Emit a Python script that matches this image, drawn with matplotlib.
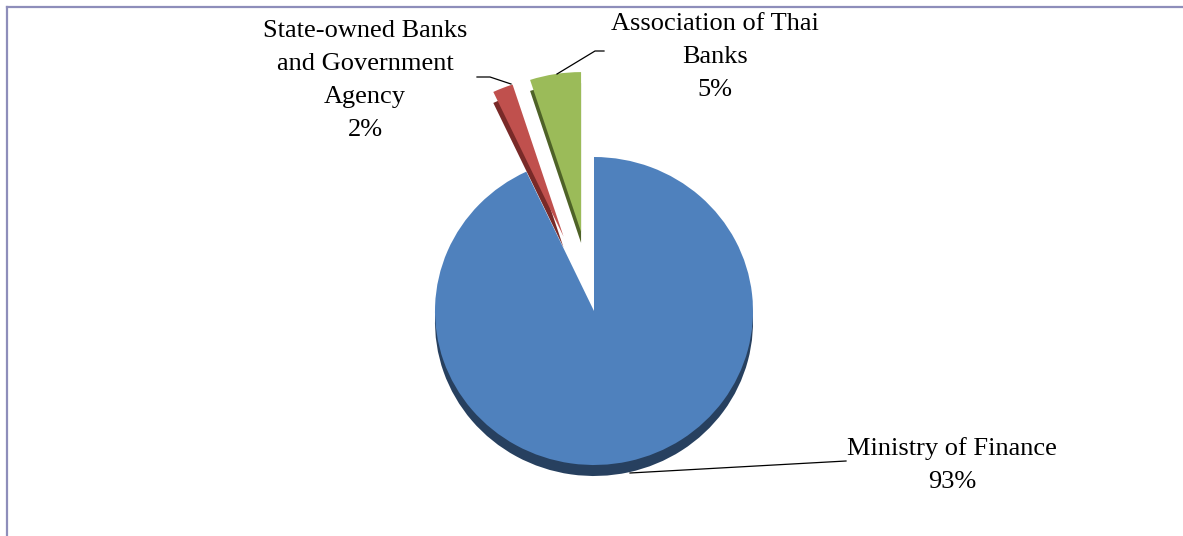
# 3D风格饼图复刻

import matplotlib
matplotlib.use("Agg")
import matplotlib.pyplot as plt
from matplotlib.lines import Line2D

labels = ["Ministry of Finance", "State-owned Banks\nand Government\nAgency", "Association of Thai\nBanks"]
shares = [93, 2, 5]
pct_text = ["93%", "2%", "5%"]
colors = ["#4F81BD", "#C0504D", "#9BBB59"]
side_colors = ["#27405F", "#792A28", "#4E6227"]
explode = [0, 0.52, 0.52]

W, H = 1183, 536
SY = 154 / 159  # 饼图略微压扁

fig = plt.figure(figsize=(W / 100, H / 100), dpi=100)
ax = fig.add_axes([0, 0, 1, 1])


def px(x, y):
    # 像素坐标 -> 数据坐标
    return x, (H - y) / SY


cx, cy = px(594, 311)
R = 159
DEPTH = 11 / SY
expl = [e * R for e in explode]  # pie的explode是数据单位

# 侧面（深色，向下偏移）
side, _ = ax.pie(shares, colors=side_colors, explode=expl, startangle=90, counterclock=False,
                 center=(cx, cy - DEPTH), radius=R, wedgeprops=dict(linewidth=0))
# 顶面
top, _ = ax.pie(shares, colors=colors, explode=expl, startangle=90, counterclock=False,
                center=(cx, cy), radius=R, wedgeprops=dict(linewidth=0))
for w in (side[1], side[2], top[1], top[2]):
    w.set_radius(165)

ax.set_aspect("auto")
ax.set_xlim(0, W)
ax.set_ylim(0, H / SY)
ax.axis("off")

# 标签
font = dict(family="Liberation Serif", size=19, ha="center", va="baseline", linespacing=1.65)
label_pos = [(952, 488), (365, 136), (715, 96)]
for lab, pct, (x, y) in zip(labels, pct_text, label_pos):
    ax.text(*px(x, y), lab + "\n" + pct, **font)

# 引导线
leaders = [
    [(630, 473), (846, 461)],
    [(511, 84), (490, 77), (477, 77)],
    [(557, 74), (595, 51), (604, 51)],
]
for pts in leaders:
    xs, ys = zip(*[px(x, y) for x, y in pts])
    ax.plot(xs, ys, color="black", lw=0.9)

# 外框
fig.add_artist(Line2D([6.5 / W, 1.0], [1 - 6.5 / H, 1 - 6.5 / H], transform=fig.transFigure,
                      color="#8E8EBA", lw=1.6))
fig.add_artist(Line2D([6.5 / W, 6.5 / W], [0, 1 - 6.5 / H], transform=fig.transFigure,
                      color="#8E8EBA", lw=1.6))

fig.savefig("out.png", dpi=100)
